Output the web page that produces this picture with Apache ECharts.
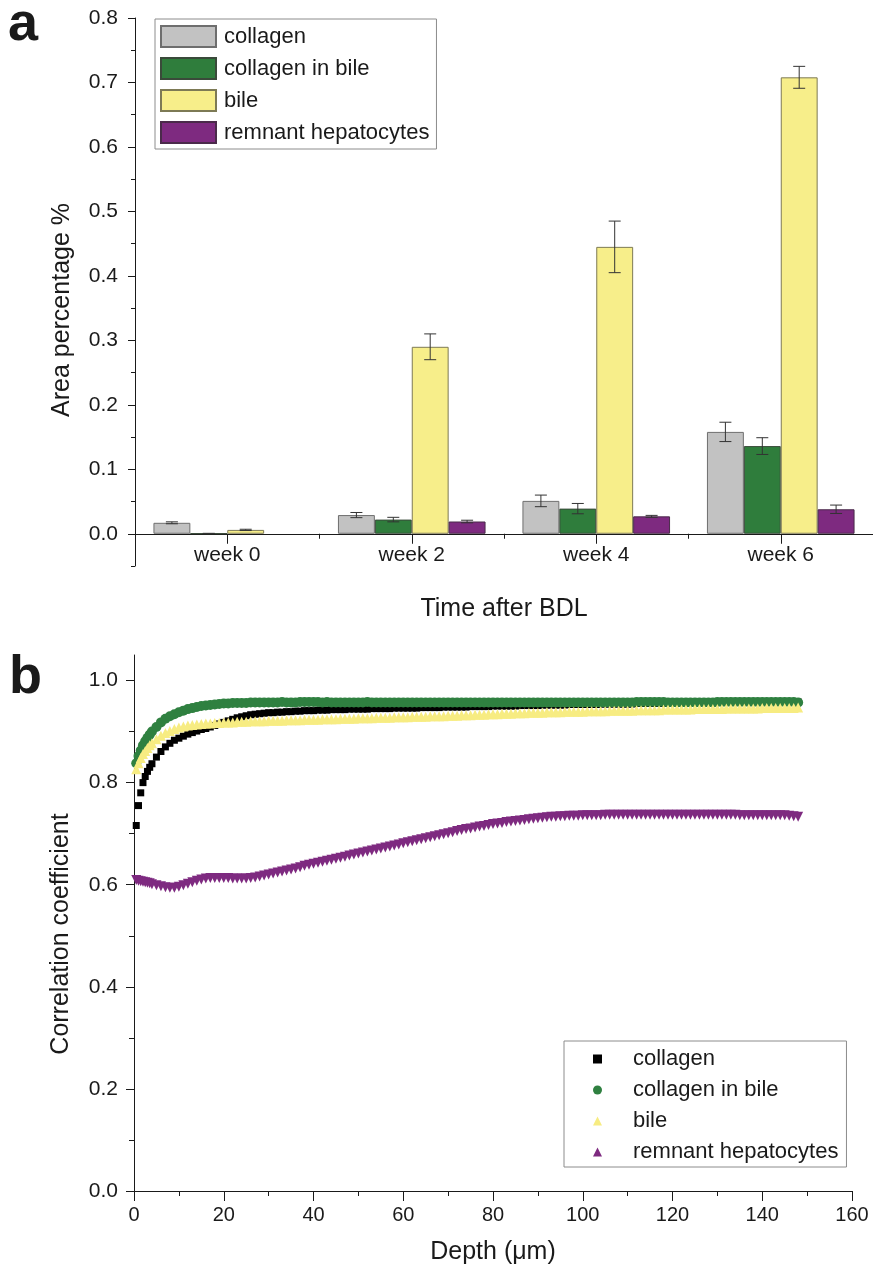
<!DOCTYPE html>
<html>
<head>
<meta charset="utf-8">
<script src="https://cdn.jsdelivr.net/npm/echarts@6/dist/echarts.min.js"></script>
<style>
  html, body { margin: 0; padding: 0; background: #fff; }
  #chartA { position: absolute; left: 0; top: 0; width: 873px; height: 630px; }
  #chartB { position: absolute; left: 0; top: 630px; width: 873px; height: 642px; }
</style>
</head>
<body>
<div id="chartA"></div>
<div id="chartB"></div>
<script>
// ---------- Panel a: area percentage per tissue component ----------
const weeks = ['week 0', 'week 2', 'week 4', 'week 6'];
const areaCollagen      = [0.017, 0.029, 0.051, 0.158];
const areaCollagenBile  = [0.0004, 0.022, 0.039, 0.136];
const areaBile          = [0.006, 0.290, 0.445, 0.708];
const areaRemnant       = [null, 0.019, 0.027, 0.038];
const errCollagen       = [0.0015, 0.004, 0.009, 0.015];
const errCollagenBile   = [0.0003, 0.0035, 0.008, 0.013];
const errBile           = [0.001, 0.020, 0.040, 0.017];
const errRemnant        = [null, 0.002, 0.0015, 0.0065];
const areaMajorTicks = [0, 0.1, 0.2, 0.3, 0.4, 0.5, 0.6, 0.7, 0.8];
const areaMinorTicks = [-0.05, 0.05, 0.15, 0.25, 0.35, 0.45, 0.55, 0.65, 0.75];

// ---------- Panel b: correlation coefficient versus depth ----------
const depth = [
  0.5, 1, 1.5, 2, 2.5, 3, 3.5, 4,
  5, 6, 7, 8, 9, 10, 11, 12, 13, 14,
  15, 16, 17, 18, 19, 20, 21, 22, 23, 24,
  25, 26, 27, 28, 29, 30, 31, 32, 33, 34,
  35, 36, 37, 38, 39, 40, 41, 42, 43, 44,
  45, 46, 47, 48, 49, 50, 51, 52, 53, 54,
  55, 56, 57, 58, 59, 60, 61, 62, 63, 64,
  65, 66, 67, 68, 69, 70, 71, 72, 73, 74,
  75, 76, 77, 78, 79, 80, 81, 82, 83, 84,
  85, 86, 87, 88, 89, 90, 91, 92, 93, 94,
  95, 96, 97, 98, 99, 100, 101, 102, 103, 104,
  105, 106, 107, 108, 109, 110, 111, 112, 113, 114,
  115, 116, 117, 118, 119, 120, 121, 122, 123, 124,
  125, 126, 127, 128, 129, 130, 131, 132, 133, 134,
  135, 136, 137, 138, 139, 140, 141, 142, 143, 144,
  145, 146, 147, 148
];
const corrCollagen = [
  0.716, 0.755, 0.780, 0.800, 0.812, 0.822, 0.830, 0.837,
  0.850, 0.861, 0.870, 0.877, 0.883, 0.887, 0.891, 0.895, 0.898, 0.901,
  0.904, 0.906, 0.909, 0.912, 0.915, 0.918, 0.921, 0.924, 0.927, 0.929,
  0.931, 0.933, 0.934, 0.935, 0.936, 0.937, 0.937, 0.938, 0.938, 0.939,
  0.939, 0.940, 0.940, 0.941, 0.941, 0.941, 0.942, 0.942, 0.942, 0.943,
  0.943, 0.943, 0.943, 0.944, 0.944, 0.944, 0.944, 0.944, 0.945, 0.945,
  0.945, 0.945, 0.945, 0.946, 0.946, 0.946, 0.946, 0.946, 0.946, 0.947,
  0.947, 0.947, 0.947, 0.947, 0.948, 0.948, 0.948, 0.948, 0.948, 0.948,
  0.949, 0.949, 0.949, 0.949, 0.949, 0.950, 0.950, 0.950, 0.950, 0.950,
  0.950, 0.951, 0.951, 0.951, 0.951, 0.951, 0.952, 0.952, 0.952, 0.952,
  0.952, 0.952, 0.953, 0.953, 0.953, 0.953, 0.953, 0.953, 0.953, 0.954,
  0.954, 0.954, 0.954, 0.954, 0.954, 0.954, 0.954, 0.955, 0.955, 0.955,
  0.955, 0.955, 0.955, 0.955, 0.955, 0.956, 0.956, 0.956, 0.956, 0.956,
  0.956, 0.956, 0.956, 0.956, 0.956, 0.957, 0.957, 0.957, 0.957, 0.957,
  0.957, 0.957, 0.957, 0.957, 0.957, 0.957, 0.957, 0.957, 0.957, 0.958,
  0.958, 0.958, 0.958, 0.958
];
const corrCollagenBile = [
  0.838, 0.852, 0.863, 0.873, 0.881, 0.888, 0.894, 0.900,
  0.909, 0.918, 0.925, 0.930, 0.934, 0.938, 0.941, 0.944, 0.946, 0.948,
  0.950, 0.951, 0.952, 0.953, 0.954, 0.955, 0.955, 0.956, 0.956, 0.956,
  0.956, 0.957, 0.957, 0.957, 0.957, 0.957, 0.957, 0.957, 0.958, 0.957,
  0.957, 0.957, 0.958, 0.958, 0.958, 0.958, 0.958, 0.957, 0.958, 0.957,
  0.957, 0.957, 0.957, 0.957, 0.957, 0.957, 0.957, 0.958, 0.957, 0.957,
  0.957, 0.957, 0.957, 0.957, 0.957, 0.957, 0.957, 0.957, 0.957, 0.957,
  0.957, 0.957, 0.957, 0.957, 0.957, 0.957, 0.957, 0.957, 0.957, 0.957,
  0.957, 0.957, 0.957, 0.957, 0.957, 0.957, 0.957, 0.957, 0.957, 0.957,
  0.957, 0.957, 0.957, 0.957, 0.957, 0.957, 0.957, 0.957, 0.957, 0.957,
  0.957, 0.957, 0.957, 0.957, 0.957, 0.957, 0.957, 0.957, 0.957, 0.957,
  0.957, 0.957, 0.957, 0.957, 0.957, 0.957, 0.957, 0.958, 0.958, 0.958,
  0.958, 0.958, 0.958, 0.958, 0.957, 0.957, 0.957, 0.957, 0.957, 0.957,
  0.957, 0.957, 0.957, 0.957, 0.957, 0.958, 0.958, 0.958, 0.958, 0.958,
  0.958, 0.958, 0.958, 0.958, 0.958, 0.958, 0.958, 0.958, 0.958, 0.958,
  0.958, 0.958, 0.958, 0.957
];
const corrBile = [
  0.826, 0.838, 0.848, 0.856, 0.862, 0.868, 0.873, 0.877,
  0.885, 0.892, 0.897, 0.901, 0.905, 0.908, 0.910, 0.912, 0.913, 0.914,
  0.915, 0.916, 0.916, 0.917, 0.917, 0.918, 0.918, 0.918, 0.919, 0.919,
  0.919, 0.920, 0.920, 0.920, 0.920, 0.921, 0.921, 0.921, 0.921, 0.922,
  0.922, 0.922, 0.922, 0.923, 0.923, 0.923, 0.923, 0.924, 0.924, 0.924,
  0.924, 0.925, 0.925, 0.925, 0.925, 0.926, 0.926, 0.926, 0.926, 0.927,
  0.927, 0.927, 0.927, 0.928, 0.928, 0.928, 0.928, 0.929, 0.929, 0.929,
  0.929, 0.930, 0.930, 0.930, 0.930, 0.931, 0.931, 0.931, 0.932, 0.932,
  0.932, 0.933, 0.933, 0.933, 0.934, 0.934, 0.934, 0.935, 0.935, 0.935,
  0.936, 0.936, 0.936, 0.937, 0.937, 0.937, 0.937, 0.938, 0.938, 0.938,
  0.938, 0.939, 0.939, 0.939, 0.939, 0.939, 0.940, 0.940, 0.940, 0.940,
  0.940, 0.941, 0.941, 0.941, 0.941, 0.941, 0.941, 0.942, 0.942, 0.942,
  0.942, 0.942, 0.942, 0.943, 0.943, 0.943, 0.943, 0.943, 0.943, 0.943,
  0.944, 0.944, 0.944, 0.944, 0.944, 0.944, 0.944, 0.945, 0.945, 0.945,
  0.945, 0.945, 0.945, 0.945, 0.945, 0.946, 0.946, 0.946, 0.946, 0.946,
  0.946, 0.946, 0.946, 0.947
];
const corrRemnant = [
  0.609, 0.608, 0.607, 0.606, 0.605, 0.604, 0.603, 0.601,
  0.599, 0.597, 0.595, 0.594, 0.594, 0.596, 0.599, 0.602, 0.605, 0.608,
  0.610, 0.612, 0.613, 0.613, 0.613, 0.613, 0.613, 0.612, 0.612, 0.612,
  0.612, 0.613, 0.614, 0.616, 0.618, 0.620, 0.622, 0.624, 0.626, 0.628,
  0.630, 0.632, 0.634, 0.637, 0.639, 0.641, 0.643, 0.645, 0.647, 0.649,
  0.651, 0.653, 0.655, 0.657, 0.659, 0.661, 0.663, 0.665, 0.667, 0.669,
  0.671, 0.673, 0.675, 0.677, 0.679, 0.681, 0.683, 0.685, 0.687, 0.689,
  0.691, 0.693, 0.695, 0.697, 0.699, 0.701, 0.703, 0.705, 0.707, 0.709,
  0.710, 0.712, 0.714, 0.715, 0.717, 0.719, 0.720, 0.721, 0.723, 0.724,
  0.725, 0.726, 0.727, 0.728, 0.729, 0.730, 0.731, 0.732, 0.733, 0.733,
  0.734, 0.734, 0.735, 0.735, 0.735, 0.736, 0.736, 0.736, 0.736, 0.736,
  0.737, 0.737, 0.737, 0.737, 0.737, 0.737, 0.737, 0.737, 0.737, 0.737,
  0.737, 0.737, 0.737, 0.737, 0.737, 0.737, 0.737, 0.737, 0.737, 0.737,
  0.737, 0.737, 0.737, 0.737, 0.737, 0.737, 0.737, 0.737, 0.737, 0.737,
  0.736, 0.736, 0.736, 0.736, 0.736, 0.736, 0.736, 0.736, 0.736, 0.736,
  0.736, 0.735, 0.734, 0.733
];
const corrMajorTicks = [0, 0.2, 0.4, 0.6, 0.8, 1.0];
const corrMinorTicks = [0.1, 0.3, 0.5, 0.7, 0.9];

// ---------- shared styling ----------
const FONT = '"Liberation Sans", Arial, Helvetica, sans-serif';
const INK = '#1a1a1a';
const COLORS = { grey: '#c2c2c2', green: '#2f7d3c', yellow: '#f7ee8a', purple: '#7e2a80' };
const BAR_GAP_RATIO = 0.2;   // barCategoryGap as a fraction
const BAR_SLOTS = 4;

// ---------- panel a ----------
function barSeries(name, values, color, border) {
  return {
    name, type: 'bar', data: values, xAxisIndex: 0, yAxisIndex: 0,
    barGap: '0%', barCategoryGap: (BAR_GAP_RATIO * 100) + '%',
    itemStyle: { color, borderColor: border, borderWidth: 1 },
    z: 2
  };
}

function errorSeries(name, values, errors, slot) {
  const data = [];
  values.forEach((v, i) => {
    if (v != null && errors[i] != null) data.push([i, v, errors[i]]);
  });
  return {
    name: name + ' error', type: 'custom', xAxisIndex: 0, yAxisIndex: 0, z: 3,
    encode: { x: 0, y: 1 },
    data,
    renderItem(params, api) {
      const idx = api.value(0), v = api.value(1), e = api.value(2);
      const band = api.size([1, 0])[0];
      const barW = band * (1 - BAR_GAP_RATIO) / BAR_SLOTS;
      const cx = api.coord([idx, v])[0] + (slot - (BAR_SLOTS - 1) / 2) * barW;
      const yTop = api.coord([idx, v + e])[1];
      const yBot = api.coord([idx, v - e])[1];
      const cap = 6;
      const st = { stroke: '#333', lineWidth: 1 };
      return {
        type: 'group',
        children: [
          { type: 'line', shape: { x1: cx, y1: yTop, x2: cx, y2: yBot }, style: st },
          { type: 'line', shape: { x1: cx - cap, y1: yTop, x2: cx + cap, y2: yTop }, style: st },
          { type: 'line', shape: { x1: cx - cap, y1: yBot, x2: cx + cap, y2: yBot }, style: st }
        ]
      };
    }
  };
}

const chartA = echarts.init(document.getElementById('chartA'), null, { renderer: 'canvas' });
chartA.setOption({
  animation: false,
  backgroundColor: '#fff',
  textStyle: { fontFamily: FONT, color: INK },
  title: {
    text: 'a', left: 8, top: -2, padding: 0,
    textStyle: { fontFamily: FONT, fontSize: 54, fontWeight: 'bold', color: INK }
  },
  legend: {
    orient: 'vertical', left: 155, top: 19,
    padding: [6, 7, 5, 5],
    itemWidth: 55, itemHeight: 21, itemGap: 9,
    icon: 'rect',
    borderColor: '#8c8c8c', borderWidth: 1,
    textStyle: { fontFamily: FONT, fontSize: 22, lineHeight: 22, color: INK, padding: [0, 0, 0, 3] },
    data: ['collagen', 'collagen in bile', 'bile', 'remnant hepatocytes']
  },
  grid: { left: 135, top: 18, width: 738, height: 548, containLabel: false, outerBoundsMode: 'none' },
  xAxis: [
    {
      type: 'category', data: weeks, position: 'bottom',
      axisLine: { show: true, onZero: true, lineStyle: { color: INK, width: 1 } },
      axisTick: { show: true, alignWithLabel: true, length: 10, lineStyle: { color: INK } },
      axisLabel: { fontFamily: FONT, fontSize: 21, color: INK, margin: -21, interval: 0 },
      name: 'Time after BDL', nameLocation: 'middle', nameGap: 31,
      nameTextStyle: { fontFamily: FONT, fontSize: 25, color: INK }
    },
    {
      type: 'category', data: weeks, position: 'bottom',
      axisLine: { show: false, onZero: true },
      axisTick: { show: true, alignWithLabel: false, length: 5, lineStyle: { color: INK } },
      axisLabel: { show: false }
    }
  ],
  yAxis: [
    {
      type: 'value', min: -0.05, max: 0.8, position: 'left',
      axisLine: { show: true, lineStyle: { color: INK, width: 1 } },
      splitLine: { show: false },
      axisTick: { show: true, length: 7, customValues: areaMajorTicks, lineStyle: { color: INK } },
      axisLabel: {
        fontFamily: FONT, fontSize: 21, color: INK, margin: 17,
        customValues: areaMajorTicks, formatter: v => v.toFixed(1)
      },
      name: 'Area percentage %', nameLocation: 'middle', nameGap: 60,
      nameTextStyle: { fontFamily: FONT, fontSize: 25, color: INK, padding: [0, 36, 0, 0] }
    },
    {
      type: 'value', min: -0.05, max: 0.8, position: 'left', offset: 0,
      axisLine: { show: false },
      splitLine: { show: false },
      axisTick: { show: true, length: 4, customValues: areaMinorTicks, lineStyle: { color: INK } },
      axisLabel: { show: false }
    }
  ],
  series: [
    barSeries('collagen', areaCollagen, COLORS.grey, '#6e6e6e'),
    barSeries('collagen in bile', areaCollagenBile, COLORS.green, '#3a4a3a'),
    barSeries('bile', areaBile, COLORS.yellow, '#7d7a55'),
    barSeries('remnant hepatocytes', areaRemnant, COLORS.purple, '#4a2a4a'),
    errorSeries('collagen', areaCollagen, errCollagen, 0),
    errorSeries('collagen in bile', areaCollagenBile, errCollagenBile, 1),
    errorSeries('bile', areaBile, errBile, 2),
    errorSeries('remnant hepatocytes', areaRemnant, errRemnant, 3)
  ]
});

// ---------- panel b ----------
function pairs(values) {
  return depth.map((d, i) => [d, values[i]]);
}

function scatterSeries(name, values, symbol, size, color, rotate) {
  return {
    name, type: 'scatter', data: pairs(values),
    symbol, symbolSize: size, symbolRotate: rotate || 0,
    itemStyle: { color, opacity: 1 },
    emphasis: { disabled: true }
  };
}

const chartB = echarts.init(document.getElementById('chartB'), null, { renderer: 'canvas' });
chartB.setOption({
  animation: false,
  backgroundColor: '#fff',
  textStyle: { fontFamily: FONT, color: INK },
  title: {
    text: 'b', left: 9, top: 21, padding: 0,
    textStyle: { fontFamily: FONT, fontSize: 54, fontWeight: 'bold', color: INK }
  },
  legend: {
    orient: 'vertical', left: 564, top: 411,
    padding: [7, 8, 4, 29],
    itemWidth: 9, itemHeight: 9, itemGap: 9,
    borderColor: '#8c8c8c', borderWidth: 1,
    textStyle: { fontFamily: FONT, fontSize: 22, lineHeight: 22, color: INK, padding: [0, 0, 0, 26] },
    data: ['collagen', 'collagen in bile', 'bile', 'remnant hepatocytes']
  },
  grid: { left: 134, top: 25, width: 718, height: 536, containLabel: false, outerBoundsMode: 'none' },
  xAxis: {
    type: 'value', min: 0, max: 160, interval: 20,
    axisLine: { show: true, onZero: false, lineStyle: { color: INK, width: 1 } },
    splitLine: { show: false },
    axisTick: { show: true, length: 10, lineStyle: { color: INK } },
    minorTick: { show: true, splitNumber: 2, length: 5, lineStyle: { color: INK } },
    minorSplitLine: { show: false },
    axisLabel: { fontFamily: FONT, fontSize: 20, color: INK, margin: 14 },
    name: 'Depth (\u03bcm)', nameLocation: 'middle', nameGap: 49,
    nameTextStyle: { fontFamily: FONT, fontSize: 25, color: INK }
  },
  yAxis: [
    {
      type: 'value', min: 0, max: 1.05, position: 'left',
      axisLine: { show: true, onZero: false, lineStyle: { color: INK, width: 1 } },
      splitLine: { show: false },
      axisTick: { show: true, length: 8, customValues: corrMajorTicks, lineStyle: { color: INK } },
      axisLabel: {
        fontFamily: FONT, fontSize: 21, color: INK, margin: 16,
        customValues: corrMajorTicks, formatter: v => v.toFixed(1)
      },
      name: 'Correlation coefficient', nameLocation: 'middle', nameGap: 60,
      nameTextStyle: { fontFamily: FONT, fontSize: 25, color: INK, padding: [0, 22, 0, 0] }
    },
    {
      type: 'value', min: 0, max: 1.05, position: 'left', offset: 0,
      axisLine: { show: false },
      splitLine: { show: false },
      axisTick: { show: true, length: 5, customValues: corrMinorTicks, lineStyle: { color: INK } },
      axisLabel: { show: false }
    }
  ],
  series: [
    scatterSeries('collagen', corrCollagen, 'rect', 7, '#000000'),
    scatterSeries('collagen in bile', corrCollagenBile, 'circle', 10, '#2f8040'),
    scatterSeries('bile', corrBile, 'triangle', 10, '#f7ec82'),
    scatterSeries('remnant hepatocytes', corrRemnant, 'triangle', 10, '#7e2a80', 180)
  ]
});
</script>
</body>
</html>
